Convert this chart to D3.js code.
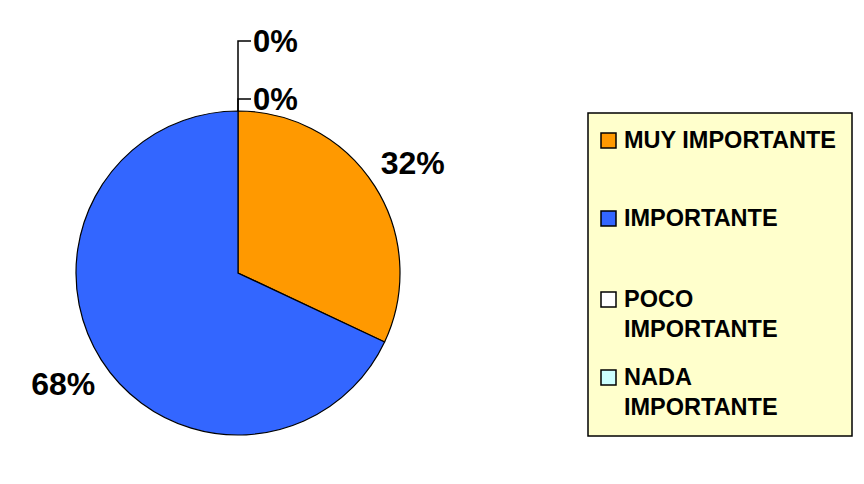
<html>
<head>
<style>
  body { margin: 0; background: #fff; }
  text { font-family: "Liberation Sans", Arial, sans-serif; font-weight: bold; }
</style>
</head>
<body>
<svg id="container" width="864" height="484"></svg>
<script src="https://cdn.jsdelivr.net/npm/d3@7"></script>
<script>
  // chart data
  let categories = ["MUY IMPORTANTE", "IMPORTANTE", "POCO IMPORTANTE", "NADA IMPORTANTE"]
  let values = [32, 68, 0, 0]
  let colors = ["#FF9900", "#3366FF", "#FFFFFF", "#CCFFFF"]
  let legendLines = [["MUY IMPORTANTE"], ["IMPORTANTE"], ["POCO", "IMPORTANTE"], ["NADA", "IMPORTANTE"]]

  let svg = d3.select("#container")
  let cx = 238, cy = 273, radius = 162

  let data = categories.map((c, i) => ({ name: c, value: values[i], color: colors[i] }))
  let pie = d3.pie().sort(null).value(d => d.value)
  let arcs = pie(data)
  let arc = d3.arc().innerRadius(0).outerRadius(radius)

  let body = svg.append("g").attr("transform", `translate(${cx},${cy})`)

  body.selectAll("path").data(arcs.filter(d => d.value > 0))
    .enter().append("path")
    .attr("d", arc)
    .attr("fill", d => d.data.color)
    .attr("stroke", "black")
    .attr("stroke-width", 1.2)

  let total = d3.sum(values)
  let labelRadius = 207
  let zeroCount = 0
  arcs.forEach(d => {
    let pct = Math.round(d.value / total * 100) + "%"
    if (d.value > 0) {
      let mid = (d.startAngle + d.endAngle) / 2
      body.append("text")
        .attr("x", Math.sin(mid) * labelRadius)
        .attr("y", -Math.cos(mid) * labelRadius)
        .attr("dy", "0.36em")
        .attr("text-anchor", "middle")
        .attr("font-size", 32)
        .text(pct)
    } else {
      // zero slices sit at the top: stack labels with leader lines
      let y = -radius - 12 - zeroCount * 58
      body.append("path")
        .attr("d", `M0,${-radius}V${y}H13`)
        .attr("fill", "none")
        .attr("stroke", "black")
        .attr("stroke-width", 1.5)
      body.append("text")
        .attr("x", 15)
        .attr("y", y)
        .attr("dy", "0.34em")
        .attr("font-size", 31)
        .text(pct)
      zeroCount++
    }
  })

  // legend
  let legend = svg.append("g").attr("transform", "translate(588,113)")
  legend.append("rect")
    .attr("width", 264).attr("height", 323)
    .attr("fill", "#FFFFCC").attr("stroke", "black").attr("stroke-width", 1.5)

  let rowY = [20, 98, 179, 257]
  let items = legend.selectAll("g.item").data(data)
    .enter().append("g")
    .attr("transform", (d, i) => `translate(13,${rowY[i]})`)
  items.append("rect")
    .attr("width", 15).attr("height", 15)
    .attr("fill", d => d.color).attr("stroke", "black").attr("stroke-width", 1.5)
  items.each(function (d, i) {
    let t = d3.select(this).append("text")
      .attr("x", 23).attr("y", 15)
      .attr("font-size", 23.5)
    legendLines[i].forEach((l, j) => {
      t.append("tspan").attr("x", 23).attr("dy", j === 0 ? 0 : 30).text(l)
    })
  })
</script>
</body>
</html>
